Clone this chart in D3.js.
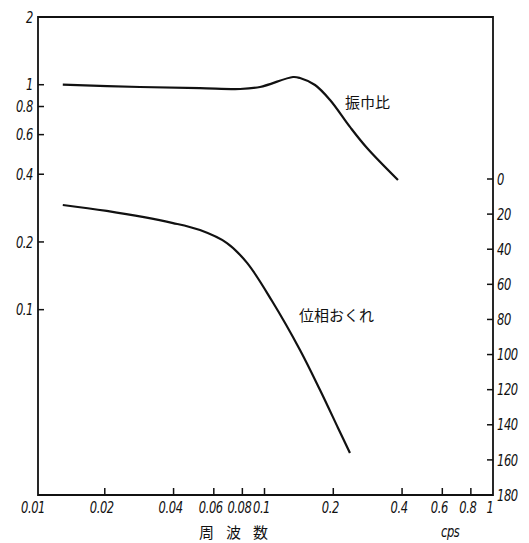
<!DOCTYPE html>
<html>
<head>
<meta charset="utf-8">
<script src="https://cdn.jsdelivr.net/npm/d3@7"></script>
<style>
  html, body { margin: 0; padding: 0; background: #fff; }
  svg { display: block; }
  .tick-label { font-family: "DejaVu Sans", sans-serif; font-style: italic; font-size: 16px; letter-spacing: -0.6px; fill: #111; }
  .cjk { font-family: "Noto Sans CJK JP", sans-serif; font-size: 15px; fill: #111; }
</style>
</head>
<body>
<svg id="chart" width="529" height="543"></svg>
<script>
// Frequency response: amplitude ratio (left, log) and phase lag (right, linear) vs frequency (cps, log)
const freqTicks = [0.01, 0.02, 0.04, 0.06, 0.08, 0.1, 0.2, 0.4, 0.6, 0.8, 1];
const freqTickLabels = ["0.01", "0.02", "0.04", "0.06", "0.08", "0.1", "0.2", "0.4", "0.6", "0.8", "1"];
const ampTicks = [2, 1, 0.8, 0.6, 0.4, 0.2, 0.1];
const ampTickLabels = ["2", "1", "0.8", "0.6", "0.4", "0.2", "0.1"];
const phaseTicks = [0, 20, 40, 60, 80, 100, 120, 140, 160, 180];

// amplitude ratio 振巾比
const ampFreq = [0.0131, 0.0285, 0.0522, 0.0782, 0.0956, 0.1333, 0.143, 0.1664, 0.1936, 0.2366, 0.281, 0.3838];
const ampValue = [1.0, 0.977, 0.966, 0.957, 0.977, 1.082, 1.071, 0.997, 0.855, 0.649, 0.523, 0.377];

// phase lag 位相おくれ (degrees)
const phaseFreq = [0.0131, 0.0204, 0.0398, 0.0522, 0.0685, 0.0839, 0.1079, 0.143, 0.175, 0.2098, 0.2366];
const phaseValue = [14.8, 18.2, 25.1, 29.1, 36.5, 47.8, 69.5, 97.4, 120.2, 141.8, 156.1];

const svg = d3.select("#chart");
const mLeft = 38, mRight = 493, mTop = 17, mBottom = 495;

const x = d3.scaleLog().domain([0.01, 1]).range([36, mRight]);
const yAmp = d3.scaleLog().domain([2, 0.015]).range([mTop, mBottom]);
const yPhase = d3.scaleLinear().domain([0, 180]).range([179, mBottom]);

// narrow italic numerals: text squeezed horizontally
function numLabel(g, px, py, str, anchor) {
  g.append("text").attr("class", "tick-label")
    .attr("transform", `translate(${px},${py}) scale(0.72,1)`)
    .attr("dy", "0.35em")
    .attr("text-anchor", anchor).text(str);
}

// frame
svg.append("path")
  .attr("d", `M${mLeft},${mTop}H${mRight}V${mBottom}H${mLeft}Z`)
  .attr("fill", "none").attr("stroke", "#111").attr("stroke-width", 1.8);

// left axis ticks (inward)
const gL = svg.append("g");
ampTicks.forEach((v, i) => {
  const yy = yAmp(v);
  if (v !== 2) {
    gL.append("line").attr("x1", mLeft).attr("x2", mLeft + 6).attr("y1", yy).attr("y2", yy)
      .attr("stroke", "#111").attr("stroke-width", 1.5);
  }
  numLabel(gL, mLeft - 5, yy, ampTickLabels[i], "end");
});

// right axis ticks (inward)
const gR = svg.append("g");
phaseTicks.forEach(v => {
  const yy = yPhase(v);
  if (v !== 180) {
    gR.append("line").attr("x1", mRight - 6).attr("x2", mRight).attr("y1", yy).attr("y2", yy)
      .attr("stroke", "#111").attr("stroke-width", 1.5);
  }
  numLabel(gR, mRight + 4, yy, String(v), "start");
});

// bottom axis ticks (inward)
const gB = svg.append("g");
freqTicks.forEach((v, i) => {
  const xx = x(v);
  if (v !== 0.01 && v !== 1) {
    gB.append("line").attr("x1", xx).attr("x2", xx).attr("y1", mBottom).attr("y2", mBottom - 7)
      .attr("stroke", "#111").attr("stroke-width", 1.5);
  }
  numLabel(gB, xx - 3, mBottom + 12, freqTickLabels[i], "middle");
});

// curves
const ampLine = d3.line().x(d => x(d[0])).y(d => yAmp(d[1])).curve(d3.curveCatmullRom.alpha(0.5));
const phaseLine = d3.line().x(d => x(d[0])).y(d => yPhase(d[1])).curve(d3.curveCatmullRom.alpha(0.5));

svg.append("path").datum(d3.zip(ampFreq, ampValue)).attr("d", ampLine)
  .attr("fill", "none").attr("stroke", "#111").attr("stroke-width", 2.2);
svg.append("path").datum(d3.zip(phaseFreq, phaseValue)).attr("d", phaseLine)
  .attr("fill", "none").attr("stroke", "#111").attr("stroke-width", 2.2);

// labels
svg.append("text").attr("class", "cjk").attr("x", 345).attr("y", 108).text("振巾比");
svg.append("text").attr("class", "cjk").attr("x", 299).attr("y", 321).text("位相おくれ");
svg.append("text").attr("class", "cjk").attr("x", 199).attr("y", 538).attr("style", "letter-spacing: 12px").text("周波数");
numLabel(svg, 441, 531, "cps", "start");
</script>
</body>
</html>
